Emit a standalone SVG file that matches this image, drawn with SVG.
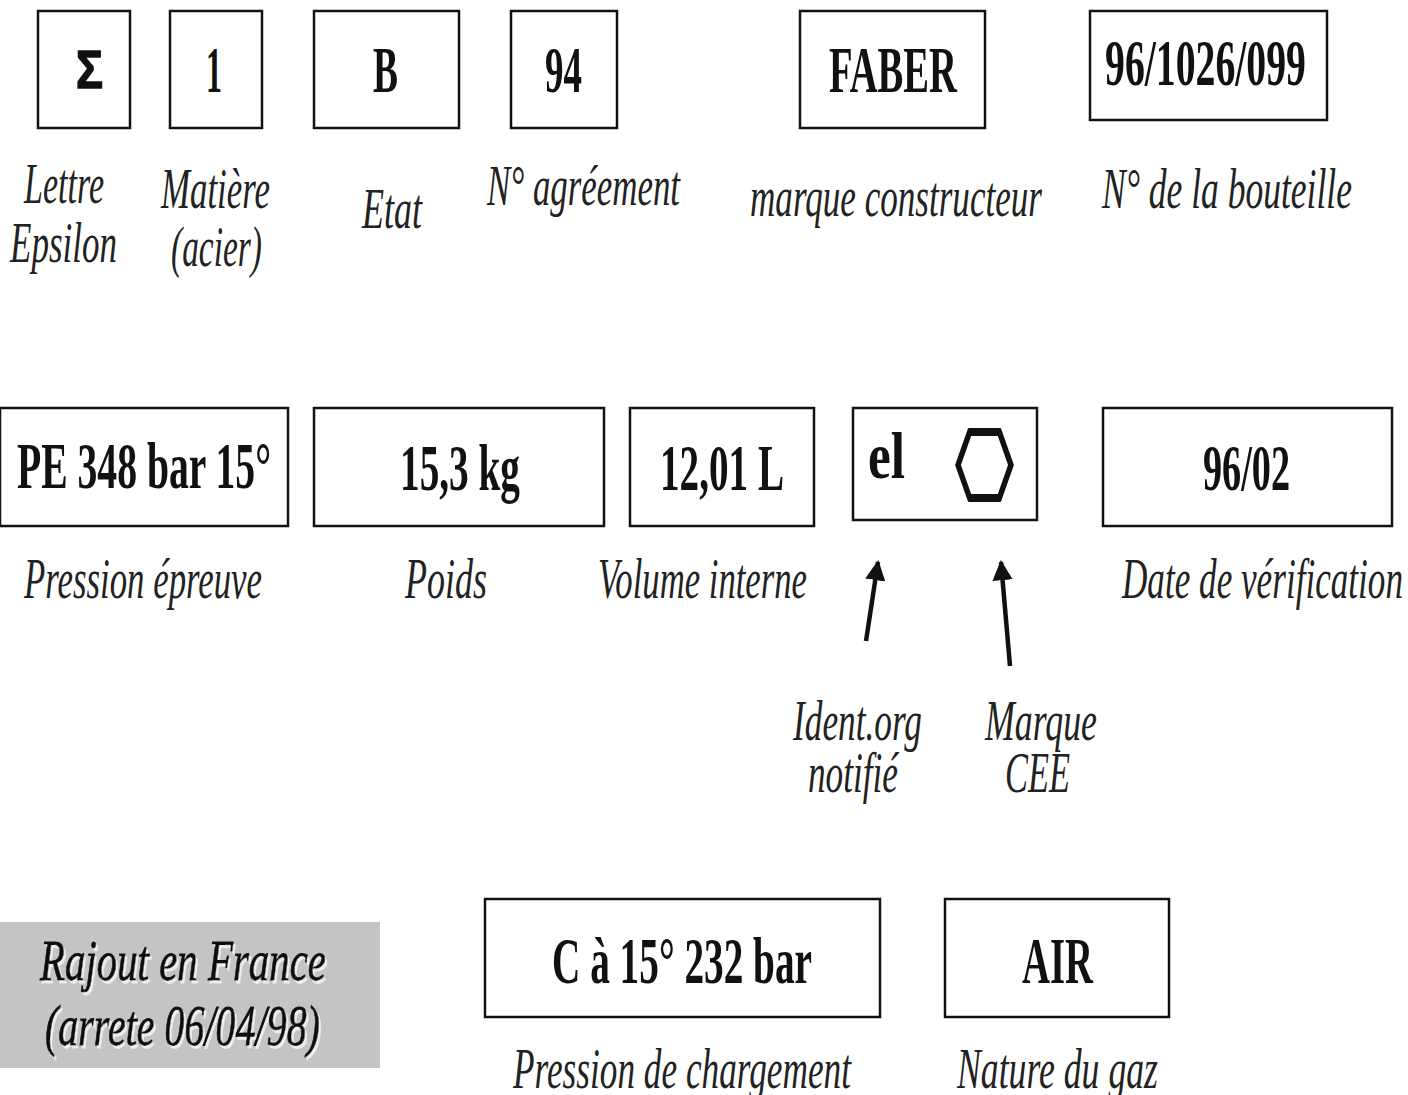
<svg xmlns="http://www.w3.org/2000/svg" width="1408" height="1095" viewBox="0 0 1408 1095">
<style>
.box{fill:#fff;stroke:#111;stroke-width:2.5}
.v{font-family:"Liberation Serif",serif;font-weight:bold;font-size:66px;fill:#111}
.l{font-family:"Liberation Serif",serif;font-style:italic;font-size:56px;fill:#222}
.r{font-family:"Liberation Serif",serif;font-style:italic;font-size:58px;fill:#111;stroke:#111;stroke-width:0.8}
</style>
<defs>
<marker id="ah" viewBox="0 0 10 10" refX="9" refY="5" markerWidth="4.5" markerHeight="5" orient="auto"><path d="M0,0 L10,5 L0,10 z" fill="#111"/></marker>
<filter id="sh" x="-5%" y="-20%" width="110%" height="140%"><feDropShadow dx="2" dy="3" stdDeviation="0.6" flood-color="#ffffff" flood-opacity="0.7"/></filter>
</defs>
<rect width="1408" height="1095" fill="#fff"/>
<g id="n-epsilon"><rect class="box" x="38" y="11" width="92" height="117"/><text x="76" y="88" font-family="Liberation Sans,sans-serif" font-weight="bold" font-size="54" fill="#111" stroke="#111" stroke-width="1.5" textLength="27" lengthAdjust="spacingAndGlyphs">Σ</text>
<text class="l" x="24" y="203" textLength="80" lengthAdjust="spacingAndGlyphs">Lettre</text><text class="l" x="10" y="262" textLength="107" lengthAdjust="spacingAndGlyphs">Epsilon</text></g>
<g id="n-matiere"><rect class="box" x="170" y="11" width="92" height="117"/><text class="v" x="206" y="92" textLength="16" lengthAdjust="spacingAndGlyphs">1</text>
<text class="l" x="161" y="208" textLength="109" lengthAdjust="spacingAndGlyphs">Matière</text><text class="l" x="171" y="266" textLength="91" lengthAdjust="spacingAndGlyphs">(acier)</text></g>
<g id="n-etat"><rect class="box" x="314" y="11" width="145" height="117"/><text class="v" x="373" y="92" textLength="25" lengthAdjust="spacingAndGlyphs">B</text>
<text class="l" x="362" y="228" textLength="60" lengthAdjust="spacingAndGlyphs">Etat</text></g>
<g id="n-agrement"><rect class="box" x="511" y="11" width="106" height="117"/><text class="v" x="545" y="92" textLength="37" lengthAdjust="spacingAndGlyphs">94</text>
<text class="l" x="487" y="205" textLength="193" lengthAdjust="spacingAndGlyphs">N° agréement</text></g>
<g id="n-faber"><rect class="box" x="800" y="11" width="185" height="117"/><text class="v" x="829" y="92" textLength="128" lengthAdjust="spacingAndGlyphs">FABER</text>
<text class="l" x="750" y="216" textLength="292" lengthAdjust="spacingAndGlyphs">marque constructeur</text></g>
<g id="n-bouteille"><rect class="box" x="1090" y="11" width="237" height="109"/><text class="v" x="1105" y="85" textLength="201" lengthAdjust="spacingAndGlyphs">96/1026/099</text>
<text class="l" x="1102" y="208" textLength="250" lengthAdjust="spacingAndGlyphs">N° de la bouteille</text></g>
<g id="n-pe"><rect class="box" x="0" y="408" width="288" height="118"/><text class="v" x="17" y="488" textLength="254" lengthAdjust="spacingAndGlyphs">PE 348 bar 15°</text>
<text class="l" x="24" y="598" textLength="238" lengthAdjust="spacingAndGlyphs">Pression épreuve</text></g>
<g id="n-poids"><rect class="box" x="314" y="408" width="290" height="118"/><text class="v" x="400" y="490" textLength="120" lengthAdjust="spacingAndGlyphs">15,3 kg</text>
<text class="l" x="405" y="598" textLength="82" lengthAdjust="spacingAndGlyphs">Poids</text></g>
<g id="n-volume"><rect class="box" x="630" y="408" width="184" height="118"/><text class="v" x="660" y="490" textLength="124" lengthAdjust="spacingAndGlyphs">12,01 L</text>
<text class="l" x="598" y="598" textLength="209" lengthAdjust="spacingAndGlyphs">Volume interne</text></g>
<g id="n-cee"><rect class="box" x="853" y="408" width="184" height="112"/><text class="v" x="868" y="478" font-size="70" textLength="37" lengthAdjust="spacingAndGlyphs">el</text>
<polygon points="970,431 999,431 1011,465 999,499 970,499 958,465" fill="none" stroke="#111" stroke-width="5.5" stroke-linejoin="miter"/>
<line x1="969" y1="432" x2="1000" y2="432" stroke="#111" stroke-width="8"/>
<line x1="969" y1="498" x2="1000" y2="498" stroke="#111" stroke-width="8"/></g>
<g id="n-date"><rect class="box" x="1103" y="408" width="289" height="118"/><text class="v" x="1203" y="490" textLength="87" lengthAdjust="spacingAndGlyphs">96/02</text>
<text class="l" x="1122" y="598" textLength="281" lengthAdjust="spacingAndGlyphs">Date de vérification</text></g>
<g id="n-ident"><text class="l" x="793" y="740" textLength="129" lengthAdjust="spacingAndGlyphs">Ident.org</text><text class="l" x="808" y="792" textLength="90" lengthAdjust="spacingAndGlyphs">notifié</text></g>
<g id="n-marque"><text class="l" x="985" y="740" textLength="112" lengthAdjust="spacingAndGlyphs">Marque</text><text class="l" x="1005" y="792" textLength="65" lengthAdjust="spacingAndGlyphs">CEE</text></g>
<g id="n-rajout"><rect x="0" y="922" width="380" height="146" fill="#c4c4c4"/>
<text class="r" x="40" y="980" filter="url(#sh)" textLength="286" lengthAdjust="spacingAndGlyphs">Rajout en France</text>
<text class="r" x="45" y="1045" filter="url(#sh)" textLength="275" lengthAdjust="spacingAndGlyphs">(arrete 06/04/98)</text></g>
<g id="n-charge"><rect class="box" x="485" y="899" width="395" height="118"/><text class="v" x="552" y="983" textLength="260" lengthAdjust="spacingAndGlyphs">C à 15° 232 bar</text>
<text class="l" x="513" y="1088" textLength="338" lengthAdjust="spacingAndGlyphs">Pression de chargement</text></g>
<g id="n-gaz"><rect class="box" x="945" y="899" width="224" height="118"/><text class="v" x="1022" y="983" textLength="71" lengthAdjust="spacingAndGlyphs">AIR</text>
<text class="l" x="957" y="1088" textLength="201" lengthAdjust="spacingAndGlyphs">Nature du gaz</text></g>
<g id="connectors" stroke="#111" stroke-width="4.5" fill="none">
<line x1="866" y1="641" x2="878" y2="562" marker-end="url(#ah)"/>
<line x1="1010" y1="666" x2="1001" y2="562" marker-end="url(#ah)"/>
</g>
</svg>
